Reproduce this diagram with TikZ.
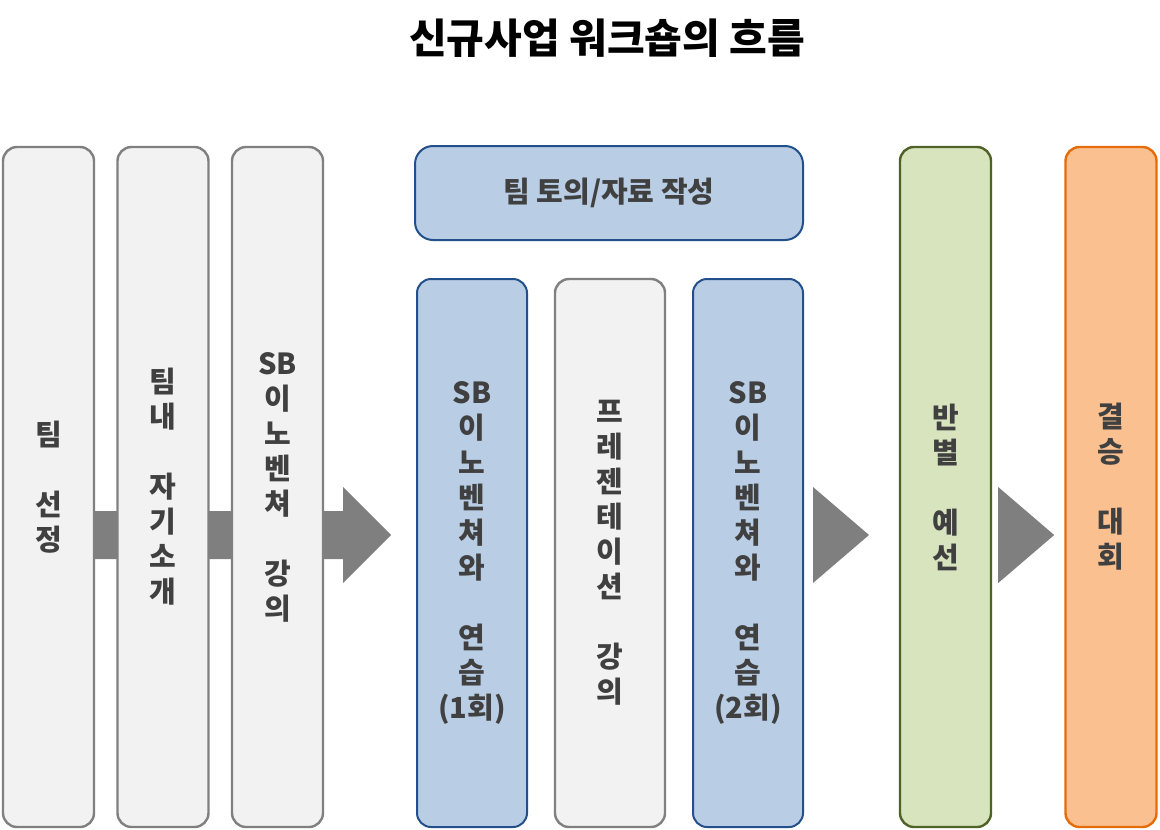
\documentclass[tikz,border=0pt]{standalone}
\usepackage{fontspec}
\setmainfont{Noto Sans CJK KR}
\usepackage{xcolor}
\usetikzlibrary{calc,backgrounds}

\definecolor{fillgray}{HTML}{F2F2F2}
\definecolor{edgegray}{HTML}{808080}
\definecolor{fillblue}{HTML}{B9CDE5}
\definecolor{edgeblue}{HTML}{23508A}
\definecolor{fillgreen}{HTML}{D7E4BD}
\definecolor{edgegreen}{HTML}{4F6228}
\definecolor{fillorange}{HTML}{FAC090}
\definecolor{edgeorange}{HTML}{E46C0A}
\definecolor{arrowgray}{HTML}{7F7F7F}

\begin{document}
\begin{tikzpicture}[
    x=1pt,y=-1pt,
    stage/.style={
        rounded corners=14pt,
        line width=2.4pt,
        inner sep=0pt,
        minimum width=91pt,
        minimum height=680pt,
        align=center,
        font=\fontsize{29}{35}\selectfont\bfseries,
        text=black!75
    },
    graystage/.style={stage, draw=edgegray, fill=fillgray},
    bluestage/.style={stage, draw=edgeblue, fill=fillblue, line width=2pt},
    greenstage/.style={stage, draw=edgegreen, fill=fillgreen},
    orangestage/.style={stage, draw=edgeorange, fill=fillorange},
    short/.style={minimum width=110pt, minimum height=548pt},
    arrowfill/.style={fill=arrowgray},
    title/.style={font=\fontsize{41}{46}\selectfont\bfseries, text=black}
]
\useasboundingbox (0,0) rectangle (1160,830);

% ===== title =====
\node[title] (title) at (607,38) {신규사업 워크숍의 흐름};

% ===== first group =====
\node[graystage] (b1) at (48.5,487) {팀\\~\\선\\정};
\node[graystage] (b2) at (163,487) {팀\\내\\~\\자\\기\\소\\개};
\node[graystage] (b3) at (277.5,487) {SB\\이\\노\\벤\\쳐\\~\\강\\의};

% ===== practice group =====
\node[bluestage, minimum width=388pt, minimum height=94pt, rounded corners=18pt]
  (talk) at (609,193) {팀 토의/자료 작성};
\node[bluestage, short] (bA) at (472,553) {SB\\이\\노\\벤\\쳐\\와\\~\\연\\습\\(1회)};
\node[graystage, short] (bB) at (610,553) {프\\레\\젠\\테\\이\\션\\~\\강\\의};
\node[bluestage, short] (bC) at (748,553) {SB\\이\\노\\벤\\쳐\\와\\~\\연\\습\\(2회)};

% ===== contests =====
\node[greenstage] (bG) at (945.5,487) {반\\별\\~\\예\\선};
\node[orangestage] (bO) at (1111,487) {결\\승\\~\\대\\회};

% ===== arrows =====
\coordinate (tipA) at ($(b3.east |- 0,535)+(67,0)$);
\coordinate (tipB) at ($(bC.east |- tipA)+(65,0)$);
\coordinate (tipC) at ($(bG.east |- tipA)+(62,0)$);

\begin{scope}[on background layer]
\fill[arrowfill] ($(b1.center |- tipA)+(0,-24)$) -- ($(tipA)+(-48,-24)$)
  -- ($(tipA)+(-48,-48)$) -- (tipA) -- ($(tipA)+(-48,48)$)
  -- ($(tipA)+(-48,24)$) -- ($(b1.center |- tipA)+(0,24)$) -- cycle;
\end{scope}

\fill[arrowfill] (tipB) -- ($(tipB)+(-56,-48)$) -- ($(tipB)+(-56,48)$) -- cycle;
\fill[arrowfill] (tipC) -- ($(tipC)+(-56,-48)$) -- ($(tipC)+(-56,48)$) -- cycle;
\end{tikzpicture}
\end{document}
